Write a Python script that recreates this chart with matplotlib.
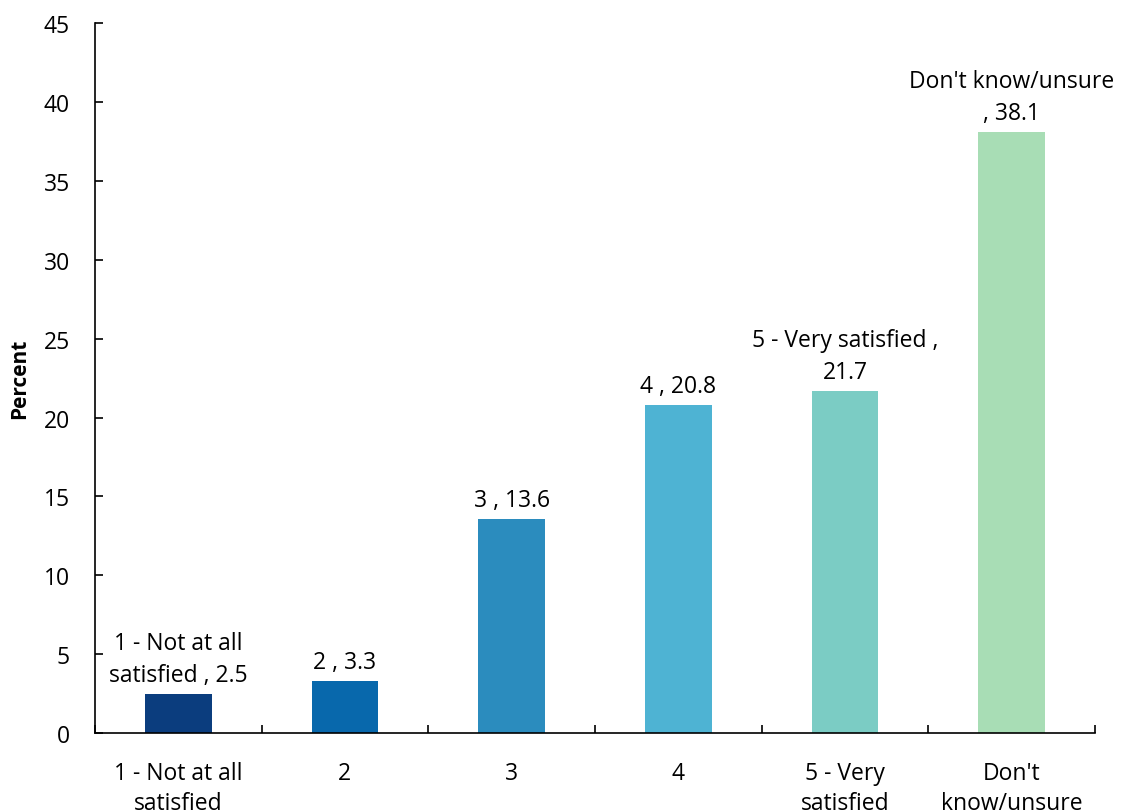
import numpy as np
import matplotlib
matplotlib.use("Agg")
import matplotlib.pyplot as plt

categories = ["1 - Not at all\nsatisfied", "2", "3", "4", "5 - Very\nsatisfied", "Don't\nknow/unsure"]
values = [2.5, 3.3, 13.6, 20.8, 21.7, 38.1]
bar_labels = ["1 - Not at all\nsatisfied , 2.5", "2 , 3.3", "3 , 13.6", "4 , 20.8",
              "5 - Very satisfied ,\n21.7", "Don't know/unsure\n, 38.1"]
colors = ["#0B3D7E", "#0868AC", "#2B8CBE", "#4EB3D3", "#7BCCC4", "#A8DDB5"]

plt.rcParams["font.family"] = ["Open Sans", "DejaVu Sans"]

fig = plt.figure(figsize=(11.21, 8.12), dpi=100)
ax = fig.add_axes([0.0847, 0.096, 0.892, 0.874])

x = np.arange(len(values))
ax.bar(x, values, width=0.4, color=colors)

for xi, v, lab in zip(x, values, bar_labels):
    ax.annotate(lab, (xi, v), xytext=(0, 5), textcoords="offset points",
                ha="center", va="bottom", fontsize=16.5, linespacing=1.45)

ax.set_xlim(-0.5, len(values) - 0.5)
ax.set_ylim(0, 45)
ax.set_yticks(np.arange(0, 46, 5))

# boundary ticks without labels, category labels on minor ticks
ax.set_xticks(np.arange(len(values) + 1) - 0.5)
ax.set_xticklabels([])
ax.set_xticks(x, minor=True)
ax.set_xticklabels(categories, minor=True, fontsize=16.5, linespacing=1.35)
ax.tick_params(axis="x", which="minor", length=0, pad=20)
ax.tick_params(axis="x", which="major", direction="in", length=6, width=1.2)
ax.tick_params(axis="y", direction="in", length=6, width=1.2, labelsize=16.5, pad=18)

for s in ["top", "right"]:
    ax.spines[s].set_visible(False)
for s in ["left", "bottom"]:
    ax.spines[s].set_linewidth(1.2)

ax.set_ylabel("Percent", fontsize=15, fontweight="bold", labelpad=10)

fig.savefig("out.png", dpi=100)
